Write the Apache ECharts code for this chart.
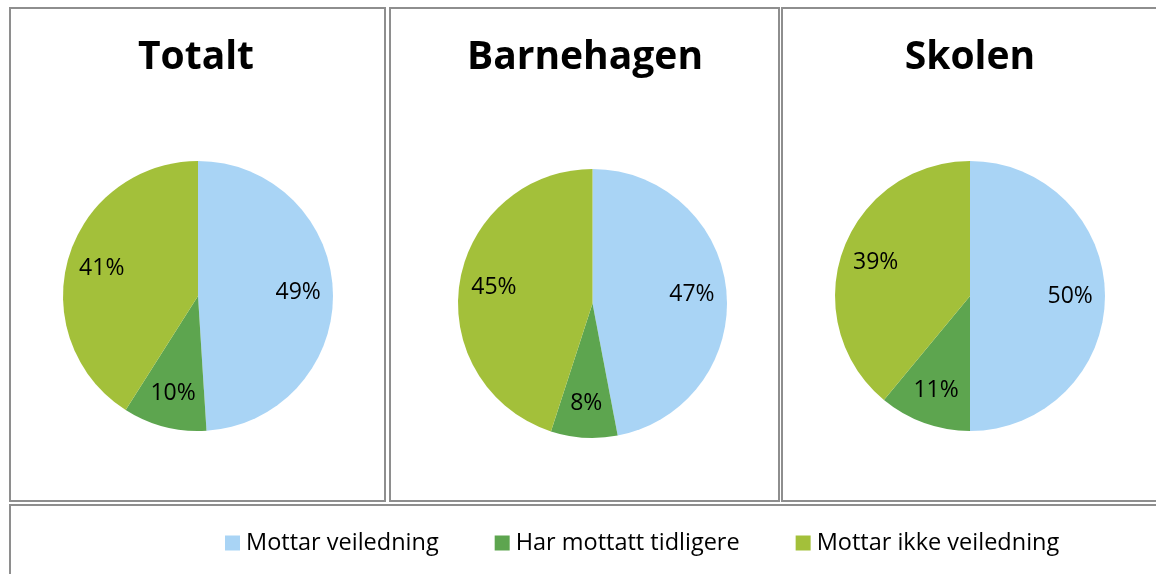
<!DOCTYPE html>
<html>
<head>
<meta charset="utf-8">
<script src="https://cdn.jsdelivr.net/npm/echarts@6/dist/echarts.min.js"></script>
<style>
html,body{margin:0;padding:0;background:#fff;}
#chart{width:1156px;height:574px;}
</style>
</head>
<body>
<div id="chart"></div>
<script>
const categories = ['Mottar veiledning', 'Har mottatt tidligere', 'Mottar ikke veiledning'];
const panelTitles = ['Totalt', 'Barnehagen', 'Skolen'];
const totaltValues = [49, 10, 41];
const barnehagenValues = [47, 8, 45];
const skolenValues = [50, 11, 39];
const colors = ['#A9D4F5', '#5DA54F', '#A3C03A'];

const panelValues = [totaltValues, barnehagenValues, skolenValues];
const centers = [[198, 296], [592.5, 303.5], [970, 296]];
const radii = [135, 134.5, 135];
const titleX = [196, 585, 970];
const FONT = '"Open Sans", "Noto Sans", sans-serif';

const chart = echarts.init(document.getElementById('chart'));

const series = [];
panelValues.forEach((vals, i) => {
  const data = categories.map((c, k) => ({ name: c, value: vals[k] }));
  series.push({
    type: 'pie',
    center: centers[i],
    radius: [0, radii[i]],
    startAngle: 90,
    clockwise: true,
    silent: true,
    animation: false,
    label: { show: false },
    labelLine: { show: false },
    itemStyle: { borderWidth: 0 },
    data: data
  });
  series.push({
    type: 'pie',
    center: centers[i],
    radius: [radii[i] * 0.44, radii[i]],
    startAngle: 90,
    clockwise: true,
    silent: true,
    animation: false,
    legendHoverLink: false,
    itemStyle: { color: 'rgba(0,0,0,0)', borderWidth: 0 },
    label: {
      show: true,
      position: 'inside',
      formatter: '{c}%',
      color: '#000',
      fontSize: 23,
      fontFamily: FONT
    },
    labelLine: { show: false },
    data: data.map(d => ({ name: d.name, value: d.value }))
  });
});

const borderStyle = { fill: 'none', stroke: '#8e8e8e', lineWidth: 2 };
const graphics = [
  { type: 'rect', shape: { x: 10, y: 8, width: 375, height: 493 }, style: borderStyle, silent: true },
  { type: 'rect', shape: { x: 390, y: 8, width: 389, height: 493 }, style: borderStyle, silent: true },
  { type: 'rect', shape: { x: 782, y: 8, width: 420, height: 493 }, style: borderStyle, silent: true },
  { type: 'rect', shape: { x: 10, y: 505, width: 1200, height: 200 }, style: borderStyle, silent: true }
];
panelTitles.forEach((t, i) => {
  graphics.push({
    type: 'text',
    x: titleX[i],
    y: 58,
    silent: true,
    style: {
      text: t,
      fill: '#000',
      font: 'bold 39px ' + FONT,
      textAlign: 'center',
      textVerticalAlign: 'middle'
    }
  });
});

chart.setOption({
  backgroundColor: '#fff',
  animation: false,
  color: colors,
  legend: {
    data: categories,
    left: 220,
    top: 526,
    itemWidth: 15,
    itemHeight: 15,
    itemGap: 56,
    icon: 'rect',
    selectedMode: false,
    textStyle: { fontSize: 23.5, color: '#000', fontFamily: FONT, padding: [0, 0, 0, 1] }
  },
  graphic: graphics,
  series: series
});
</script>
</body>
</html>
